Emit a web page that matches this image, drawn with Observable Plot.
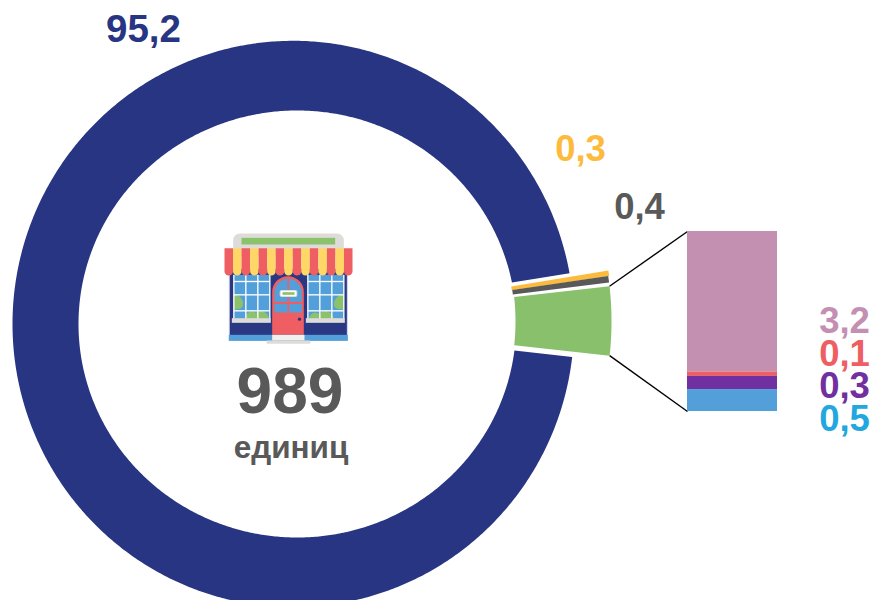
<!DOCTYPE html>
<html>
<head>
<meta charset="utf-8">
<script src="https://cdn.jsdelivr.net/npm/d3@7"></script>
<script src="https://cdn.jsdelivr.net/npm/@observablehq/plot@0.6"></script>
<style>html,body{margin:0;padding:0;background:#fff}svg{display:block}</style>
</head>
<body>
<div id="chart"></div>
<script>
// Data
const ringCategories = ["main", "yellow", "gray", "green"];
const ringValues = [95.2, 0.3, 0.4, 4.1];
const ringLabels = ["95,2", "0,3", "0,4"];
const barCategories = ["pink", "red", "purple", "blue"];
const barValues = [3.2, 0.1, 0.3, 0.5];
const barLabels = ["3,2", "0,1", "0,3", "0,5"];
const totalLabel = "989";
const unitLabel = "единиц";

// Styles
const ringColors = ["#283583", "#FDBB3E", "#595959", "#88C06C"];
const barColors = ["#C490B1", "#EF5E62", "#7030A0", "#529FD9"];
const ringTextColors = ["#283583", "#FDBB3E", "#595959"];
const barTextColors = ["#C490B1", "#EF5E62", "#7030A0", "#22A7DF"];

// Layout: each slice has an outer and an inner edge (centre and radii), plus angular insets
const W = 874, H = 600;
const startDeg = 6.69;
const pulled = (r) => ({cx: 295, cy: 321, rx: r, ry: r});
const outerEdge = [{cx: 292.8, cy: 323.5, rx: 280.8, ry: 283.2}, pulled(317), pulled(316), pulled(316)];
const innerEdge = [{cx: 296.8, cy: 323.5, rx: 218.8, ry: 213.5}, pulled(218.5), pulled(219), pulled(220)];
const outerInset = [[0, -0.26], [1.34, -1.26], [1.21, -0.97], [1.67, 0.49]];
const innerInset = [[0.44, 0.61], [1.34, -1.26], [1.21, -0.97], [1.67, 0.49]];
const barBox = {x1: 687, x2: 777, y1: 231, y2: 411};
const ringLabelPos = [[143, 29], [580, 149], [639, 207]];
const ringLabelSize = [38.5, 36.5, 36.5];
const barLabelX = 844, barLabelY = [321, 354, 386, 419];

function pt(e, deg) {
  const a = deg * Math.PI / 180;
  return {x: e.cx + e.rx * Math.cos(a), y: e.cy + e.ry * Math.sin(a)};
}

const total = d3.sum(ringValues);
let acc = startDeg;
const ringPts = [];
const slices = ringValues.map((v, i) => {
  const sweep = v / total * 360;
  const o0 = acc + outerInset[i][0], o1 = acc + sweep - outerInset[i][1];
  const i0 = acc + innerInset[i][0], i1 = acc + sweep - innerInset[i][1];
  acc += sweep;
  const n = Math.max(8, Math.ceil(sweep) * 2);
  const outer = d3.range(n + 1).map(k => pt(outerEdge[i], o0 + (o1 - o0) * k / n));
  const inner = d3.range(n + 1).map(k => pt(innerEdge[i], i1 - (i1 - i0) * k / n));
  ringPts.push(...[...outer, ...inner].map(p => ({...p, cat: ringCategories[i]})));
  return {first: outer[0], last: outer[n]};
});

const barSum = d3.sum(barValues);
const barY = d3.scaleLinear().domain([0, barSum]).range([barBox.y1, barBox.y2]);
let cum = 0;
const barRows = barValues.map((v, i) => {
  const r = {cat: barCategories[i], y1: barY(cum), y2: barY(cum + v)};
  cum += v;
  return r;
});

const green = slices[3];
const connectors = [
  {x1: green.first.x, y1: green.first.y, x2: barBox.x1, y2: barBox.y1},
  {x1: green.last.x, y1: green.last.y, x2: barBox.x1, y2: barBox.y2}
];

// Store icon
const R = "#EF5E62", Y = "#FFD766", B = "#529FD9", N = "#2A3883", G = "#DDDCD8", L = "#8CC26B";
let stripes = "";
for (let i = 0; i < 15; i++) {
  const x = 42 + i * 25.6, c = i % 2 ? Y : R;
  stripes += `<path d="M${x} 68h25.6v69a12.8 13 0 0 1-25.6 0z" fill="${c}"/>`;
}
const win = (x) => `<rect x="${x}" y="148" width="108" height="132" fill="${B}"/>`;
const grid = (x0) => [0, 36, 72, 108].map(d => `<rect x="${x0 + d - 2}" y="148" width="4" height="132" fill="#fff"/>`).join("")
  + [168, 208, 256].map(y => `<rect x="${x0}" y="${y - 2}" width="108" height="4" fill="#fff"/>`).join("");
const iconSvg = `<svg xmlns="http://www.w3.org/2000/svg" viewBox="0 0 480 375" width="160" height="125">
<rect x="68" y="24" width="332" height="70" rx="20" fill="${G}"/>
<rect x="93" y="37" width="281" height="20" fill="${L}"/>
<rect x="55" y="130" width="357" height="216" fill="#C9CEE3"/>
<rect x="58" y="130" width="351" height="200" fill="${N}"/>
<rect x="55" y="328" width="357" height="18" fill="${B}"/>
${win(70)}${win(292)}
<path d="M70 204C90 210 100 225 97 240C95 250 85 252 70 252z" fill="${L}"/>
<path d="M400 204C380 210 368 225 371 240C373 250 385 252 400 252z" fill="${L}"/>
<path d="M104 280C104 262 122 252 136 262C144 254 172 254 176 280z" fill="${L}"/>
<path d="M296 280C298 260 318 258 326 266C336 252 364 254 370 280z" fill="${L}"/>
${grid(70)}${grid(292)}
<rect x="64" y="278" width="117" height="14" fill="${G}"/>
<rect x="286" y="278" width="117" height="14" fill="${G}"/>
<path d="M185 328V200a47.5 48 0 0 1 95 0v128z" fill="${R}"/>
<path d="M192 232V202a41 42 0 0 1 82 0v30z" fill="${B}"/>
<rect x="192" y="235" width="82" height="26" fill="${B}"/>
<rect x="231" y="160" width="5" height="101" fill="${R}"/>
<rect x="190" y="229" width="86" height="6" fill="${R}"/>
<rect x="209" y="195" width="50" height="18" rx="4" fill="#fff" stroke="${G}" stroke-width="3"/>
<rect x="216" y="200" width="36" height="8" fill="${L}"/>
<circle cx="267" cy="281" r="5" fill="${N}"/>
<rect x="185" y="328" width="97" height="17" fill="#F1F0EC"/>
<rect x="168" y="345" width="132" height="10" rx="3" fill="${G}"/>
${stripes}
</svg>`;
const iconUrl = "data:image/svg+xml;charset=utf-8," + encodeURIComponent(iconSvg);

const ff = "Liberation Sans, Arial, sans-serif";
const textRows = [
  ...ringLabels.map((t, i) => ({t, x: ringLabelPos[i][0], y: ringLabelPos[i][1], c: ringTextColors[i]})),
  ...barLabels.map((t, i) => ({t, x: barLabelX, y: barLabelY[i], c: barTextColors[i]}))
];

const plot = Plot.plot({
  width: W, height: H, margin: 0,
  style: {background: "#fff", fontFamily: ff},
  x: {domain: [0, W], range: [0, W], axis: null},
  y: {domain: [0, H], range: [0, H], axis: null},
  marks: [
    Plot.line(ringPts, {x: "x", y: "y", z: "cat", fill: d => ringColors[ringCategories.indexOf(d.cat)], stroke: "none", curve: "linear-closed"}),
    Plot.link(connectors, {x1: "x1", y1: "y1", x2: "x2", y2: "y2", stroke: "#000", strokeWidth: 1.4}),
    Plot.rect(barRows, {x1: barBox.x1, x2: barBox.x2, y1: "y1", y2: "y2", fill: d => barColors[barCategories.indexOf(d.cat)]}),
    Plot.text(textRows.slice(0, 1), {x: "x", y: "y", text: "t", fill: "c", fontSize: ringLabelSize[0], fontWeight: 700, textAnchor: "middle", lineAnchor: "middle"}),
    Plot.text(textRows.slice(1), {x: "x", y: "y", text: "t", fill: "c", fontSize: 36.5, fontWeight: 700, textAnchor: "middle", lineAnchor: "middle"}),
    Plot.text([totalLabel], {x: 289.5, y: 392, text: d => d, fill: "#595959", fontSize: 64, fontWeight: 700, textAnchor: "middle", lineAnchor: "middle"}),
    Plot.text([unitLabel], {x: 290.5, y: 447, text: d => d, fill: "#595959", fontSize: 31.5, fontWeight: 700, textAnchor: "middle", lineAnchor: "middle"}),
    Plot.image([iconUrl], {x: 290, y: 287.5, src: d => d, width: 160, height: 125, preserveAspectRatio: "none"})
  ]
});
document.getElementById("chart").appendChild(plot);
</script>
</body>
</html>
